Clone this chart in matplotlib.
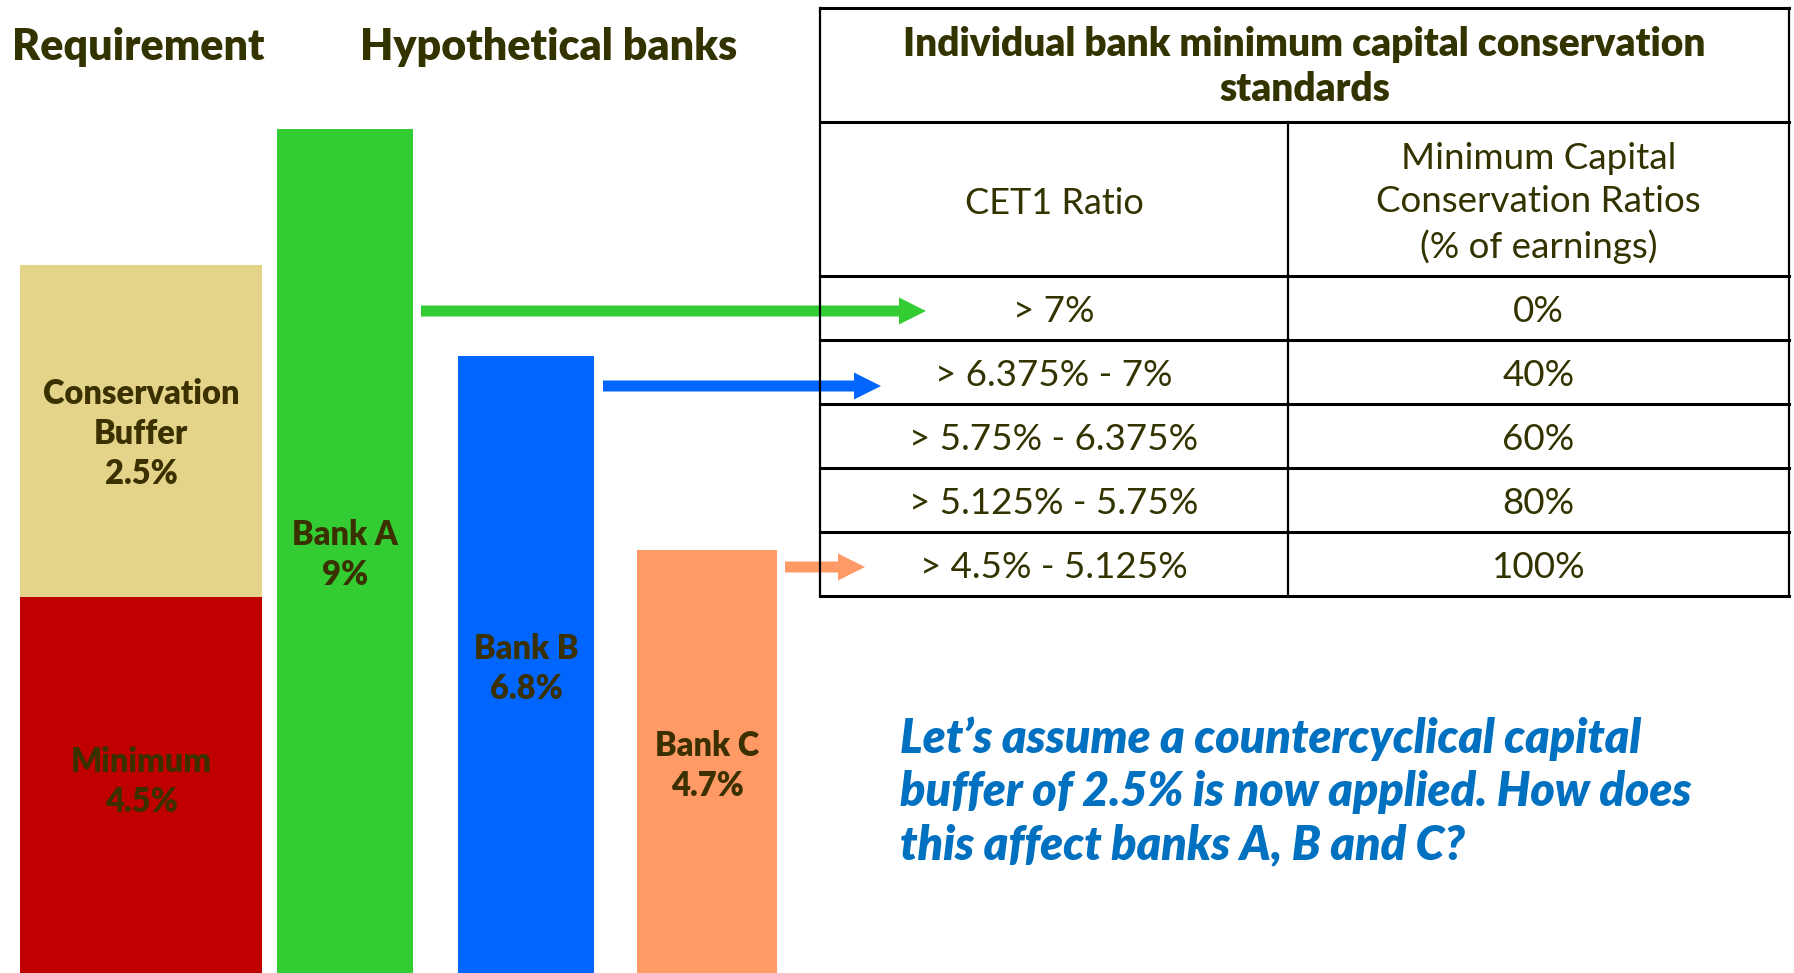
import matplotlib
matplotlib.use('Agg')
import matplotlib.pyplot as plt

plt.rcParams['font.family'] = ['Lato', 'DejaVu Sans']

# requirement stack (label, value shown, drawn height)
req_labels = ['Minimum\n4.5%', 'Conservation\nBuffer\n2.5%']
req_values = [4.5, 2.5]
req_heights = [376, 332]
req_colors = ['#c00000', '#e4d48a']

# hypothetical banks (illustrative heights, not to scale)
banks = ['Bank A', 'Bank B', 'Bank C']
bank_values = [9, 6.8, 4.7]
bank_heights = [844, 617, 423]
bank_colors = ['#33cc33', '#0066ff', '#ff9966']

# table
table_title = 'Individual bank minimum capital conservation\nstandards'
col_headers = ['CET1 Ratio', 'Minimum Capital\nConservation Ratios\n(% of earnings)']
cet1_ranges = ['> 7%', '> 6.375% - 7%', '> 5.75% - 6.375%', '> 5.125% - 5.75%', '> 4.5% - 5.125%']
conservation = ['0%', '40%', '60%', '80%', '100%']
bank_row = [0, 1, 4]   # row each bank points to

question = ("Let\u2019s assume a countercyclical capital\n"
            "buffer of 2.5% is now applied. How does\n"
            "this affect banks A, B and C?")

TXT = '#333300'
LBL = '#3b3100'
H = 973

fig = plt.figure(figsize=(17.94, 9.73), dpi=100)
ax = fig.add_axes([0, 0, 1, 1])
ax.set_xlim(0, 1794)
ax.set_ylim(0, H)
ax.axis('off')

# requirement stacked bar
bottom = 0
for lab, h, c in zip(req_labels, req_heights, req_colors):
    ax.bar(141, h, width=242, bottom=bottom, color=c, linewidth=0)
    bottom += h
ax.text(141, H - 782, req_labels[0], ha='center', va='center', fontsize=23.5,
        fontweight='heavy', color=LBL, linespacing=1.3)
ax.text(141, H - 434, req_labels[1], ha='center', va='center', fontsize=23.5,
        fontweight='heavy', color=LBL, linespacing=1.3)

# bank bars
bank_x = [345, 526, 707]
bank_w = [136, 136, 140]
label_y = [555, 669, 766]
for x, w, h, c, name, v, ly in zip(bank_x, bank_w, bank_heights, bank_colors, banks, bank_values, label_y):
    ax.bar(x, h, width=w, color=c, linewidth=0)
    ax.text(x, H - ly, f'{name}\n{v:g}%', ha='center', va='center', fontsize=23.5,
            fontweight='heavy', color=LBL, linespacing=1.3)

ax.text(138, H - 47, 'Requirement', ha='center', va='center', fontsize=31,
        fontweight='heavy', color=TXT)
ax.text(549, H - 47, 'Hypothetical banks', ha='center', va='center', fontsize=31,
        fontweight='heavy', color=TXT)

# table grid
tl, tr, tm = 820, 1789, 1288
row_lines = [8, 122, 276, 340, 404, 468, 532, 596]
for y in row_lines:
    ax.plot([tl, tr], [H - y, H - y], color='black', lw=2.2, solid_capstyle='projecting')
ax.plot([tl, tl], [H - 8, H - 596], color='black', lw=1.6)
ax.plot([tr, tr], [H - 8, H - 596], color='black', lw=1.6)
ax.plot([tm, tm], [H - 122, H - 596], color='black', lw=1.6)

ax.text((tl + tr) / 2, H - 67, table_title, ha='center', va='center', fontsize=28,
        fontweight='heavy', color=TXT, linespacing=1.24)
ax.text((tl + tm) / 2, H - 203, col_headers[0], ha='center', va='center', fontsize=26, color=TXT)
ax.text((tm + tr) / 2, H - 203, col_headers[1], ha='center', va='center', fontsize=26.5,
        color=TXT, linespacing=1.37)
for i, (r, c) in enumerate(zip(cet1_ranges, conservation)):
    yc = H - (row_lines[i + 2] + row_lines[i + 3]) / 2 - 4
    ax.text((tl + tm) / 2, yc, r, ha='center', va='center', fontsize=26.5, color=TXT)
    ax.text((tm + tr) / 2, yc, c, ha='center', va='center', fontsize=26.5, color=TXT)

# arrows from bars to table rows
arrow_start = [421, 603, 785]
arrow_tip = [926, 881, 865]
arrow_y = [311, 386, 567]
for c, x0, x1, ya in zip(bank_colors, arrow_start, arrow_tip, arrow_y):
    ax.arrow(x0, H - ya, x1 - x0, 0, width=11, head_width=27, head_length=27,
             length_includes_head=True, color=c, linewidth=0)

ax.text(900, H - 792, question, ha='left', va='center', fontsize=33.5, fontweight='heavy',
        fontstyle='italic', color='#0070c0', linespacing=1.25)

fig.savefig('out.png', dpi=100)
